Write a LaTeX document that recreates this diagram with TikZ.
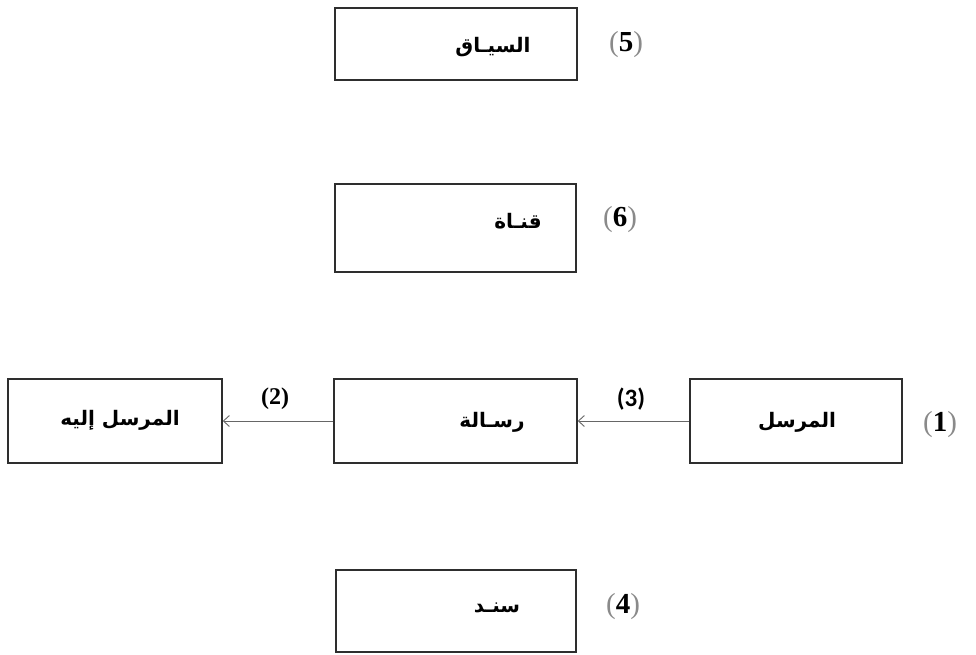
\documentclass[tikz,border=0pt]{standalone}
\usepackage{fontspec}
\usetikzlibrary{arrows.meta,calc}
\TeXXeTstate=1
\setmainfont{Liberation Serif}
\newfontfamily\arabicfont[Script=Arabic]{DejaVu Sans}
\newfontfamily\numsans{Carlito}
\definecolor{edge}{HTML}{2E2E2E}
\definecolor{wire}{HTML}{666666}
\definecolor{paren}{HTML}{8A8A8A}
\tikzset{
  box/.style={draw=edge, line width=1.5pt, rectangle, inner sep=0pt},
  word/.style={inner sep=0pt, font=\arabicfont\bfseries\fontsize{20}{24}\selectfont},
  num/.style={inner sep=0pt, font=\fontsize{29}{32}\selectfont},
  wirenum/.style={inner sep=0pt, font=\bfseries\fontsize{24}{26}\selectfont},
  flow/.style={draw=wire, line width=0.9pt, -{Straight Barb[length=6pt,width=11pt]}}
}
\newcommand{\numtag}[1]{{\color{paren}(}\textbf{#1}{\color{paren})}}
\begin{document}
\begin{tikzpicture}[x=1pt,y=-1pt]
  \useasboundingbox (0,0) rectangle (976,654);
  % boxes
  \node[box, minimum width=242pt, minimum height=72pt] (ctx)  at (456,44) {};
  \node[box, minimum width=241pt, minimum height=88pt] (chan) at (455.5,228) {};
  \node[box, minimum width=214pt, minimum height=84pt] (recv) at (115,421) {};
  \node[box, minimum width=243pt, minimum height=84pt] (msg)  at (455.5,421) {};
  \node[box, minimum width=212pt, minimum height=84pt] (send) at (796,421) {};
  \node[box, minimum width=240pt, minimum height=82pt] (supp) at (456,611) {};
  % box texts
  \node[word] (ctxT)  at (493,47)  {\beginR السيـاق\endR};
  \node[word] (chanT) at (518,221) {\beginR قنـاة\endR};
  \node[word] (recvT) at (120,420) {\beginR المرسل إليه\endR};
  \node[word] (msgT)  at (492,422) {\beginR رسـالة\endR};
  \node[word] (sendT) at (797,422) {\beginR المرسل\endR};
  \node[word] (suppT) at (497,608) {\beginR سنـد\endR};
  % numbering
  \node[num] (n5) at (626,45)  {\numtag{5}};
  \node[num] (n6) at (620,220) {\numtag{6}};
  \node[num] (n1) at (940,425) {\numtag{1}};
  \node[num] (n4) at (623,607) {\numtag{4}};
  % connectors
  \draw[flow] (send.west) -- (msg.east);
  \draw[flow] (msg.west) -- (recv.east);
  \node[wirenum] (n2) at (275,399) {(2)};
  \node[wirenum, font=\numsans\bfseries\fontsize{25}{27}\selectfont] (n3) at (631,399) {(3)};
\end{tikzpicture}
\end{document}
